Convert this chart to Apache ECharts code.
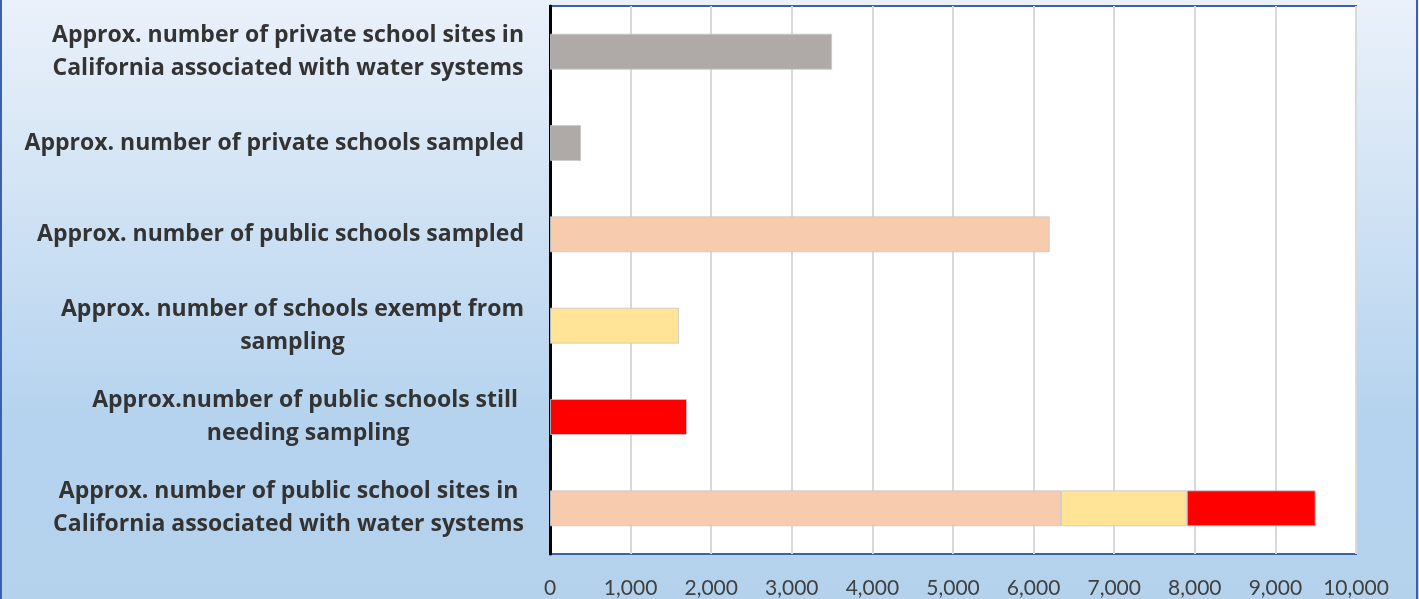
<!DOCTYPE html>
<html>
<head>
<meta charset="utf-8">
<script src="https://cdn.jsdelivr.net/npm/echarts@6/dist/echarts.min.js"></script>
<style>
  html, body { margin: 0; padding: 0; }
  #chart { width: 1419px; height: 599px; }
</style>
</head>
<body>
<div id="chart"></div>
<script>
// categories, bottom to top (ECharts draws the first category at the bottom)
const categories = [
  "Approx. number of public school sites in\nCalifornia associated with water systems",
  "Approx.number of public schools still \nneeding sampling",
  "Approx. number of schools exempt from\nsampling",
  "Approx. number of public schools sampled",
  "Approx. number of private schools sampled",
  "Approx. number of private school sites in\nCalifornia associated with water systems"
];

const sampledValues = [6340, null, null, 6200, null, null];
const exemptValues = [1560, null, 1600, null, null, null];
const needingValues = [1600, 1700, null, null, null, null];
const privateValues = [null, null, null, null, 385, 3500];

const tickMin = 0;
const tickMax = 10000;
const tickStep = 1000;

const myChart = echarts.init(document.getElementById("chart"));

const barStyle = (color) => ({
  color: color,
  borderColor: "rgba(200,200,200,0.8)",
  borderWidth: 1
});

const option = {
  backgroundColor: new echarts.graphic.LinearGradient(0, 0, 0, 1, [
    { offset: 0, color: "#eaf1fa" },
    { offset: 0.7, color: "#b5d3ee" },
    { offset: 1, color: "#b4d2ec" }
  ]),
  animation: false,
  grid: {
    left: 550,
    right: 63,
    top: 6,
    bottom: 45,
    show: true,
    backgroundColor: "#ffffff",
    borderColor: "#3a62ab",
    borderWidth: 2
  },
  xAxis: {
    type: "value",
    min: tickMin,
    max: tickMax,
    interval: tickStep,
    axisLine: { show: false },
    axisTick: { show: false },
    splitLine: { lineStyle: { color: "#d9d9d9", width: 2 } },
    axisLabel: {
      margin: 24,
      fontSize: 21,
      color: "#404040",
      fontFamily: "Lato",
      formatter: (v) => v.toLocaleString("en-US")
    }
  },
  yAxis: {
    type: "category",
    data: categories,
    axisLine: { show: true, lineStyle: { color: "#000000", width: 3 } },
    axisTick: { show: false },
    axisLabel: {
      margin: 26,
      formatter: (v) => v.split("\n").map((l) => "{c|" + l + "}").join("\n"),
      rich: {
        c: {
          fontSize: 23,
          fontWeight: "bold",
          fontFamily: "Open Sans",
          color: "#333333",
          lineHeight: 33,
          align: "center"
        }
      }
    }
  },
  graphic: [
    {
      type: "rect",
      shape: { x: 1, y: -10, width: 1416, height: 620 },
      style: { fill: "none", stroke: "#3a62ab", lineWidth: 2 },
      silent: true
    }
  ],
  series: [
    { name: "Sampled", type: "bar", stack: "total", barWidth: 36, data: sampledValues, itemStyle: barStyle("#f7cbad") },
    { name: "Exempt", type: "bar", stack: "total", barWidth: 36, data: exemptValues, itemStyle: barStyle("#ffe397") },
    { name: "Still needing", type: "bar", stack: "total", barWidth: 36, data: needingValues, itemStyle: barStyle("#ff0000") },
    { name: "Private", type: "bar", stack: "total", barWidth: 36, data: privateValues, itemStyle: barStyle("#afaaa8") }
  ]
};

myChart.setOption(option);
</script>
</body>
</html>
